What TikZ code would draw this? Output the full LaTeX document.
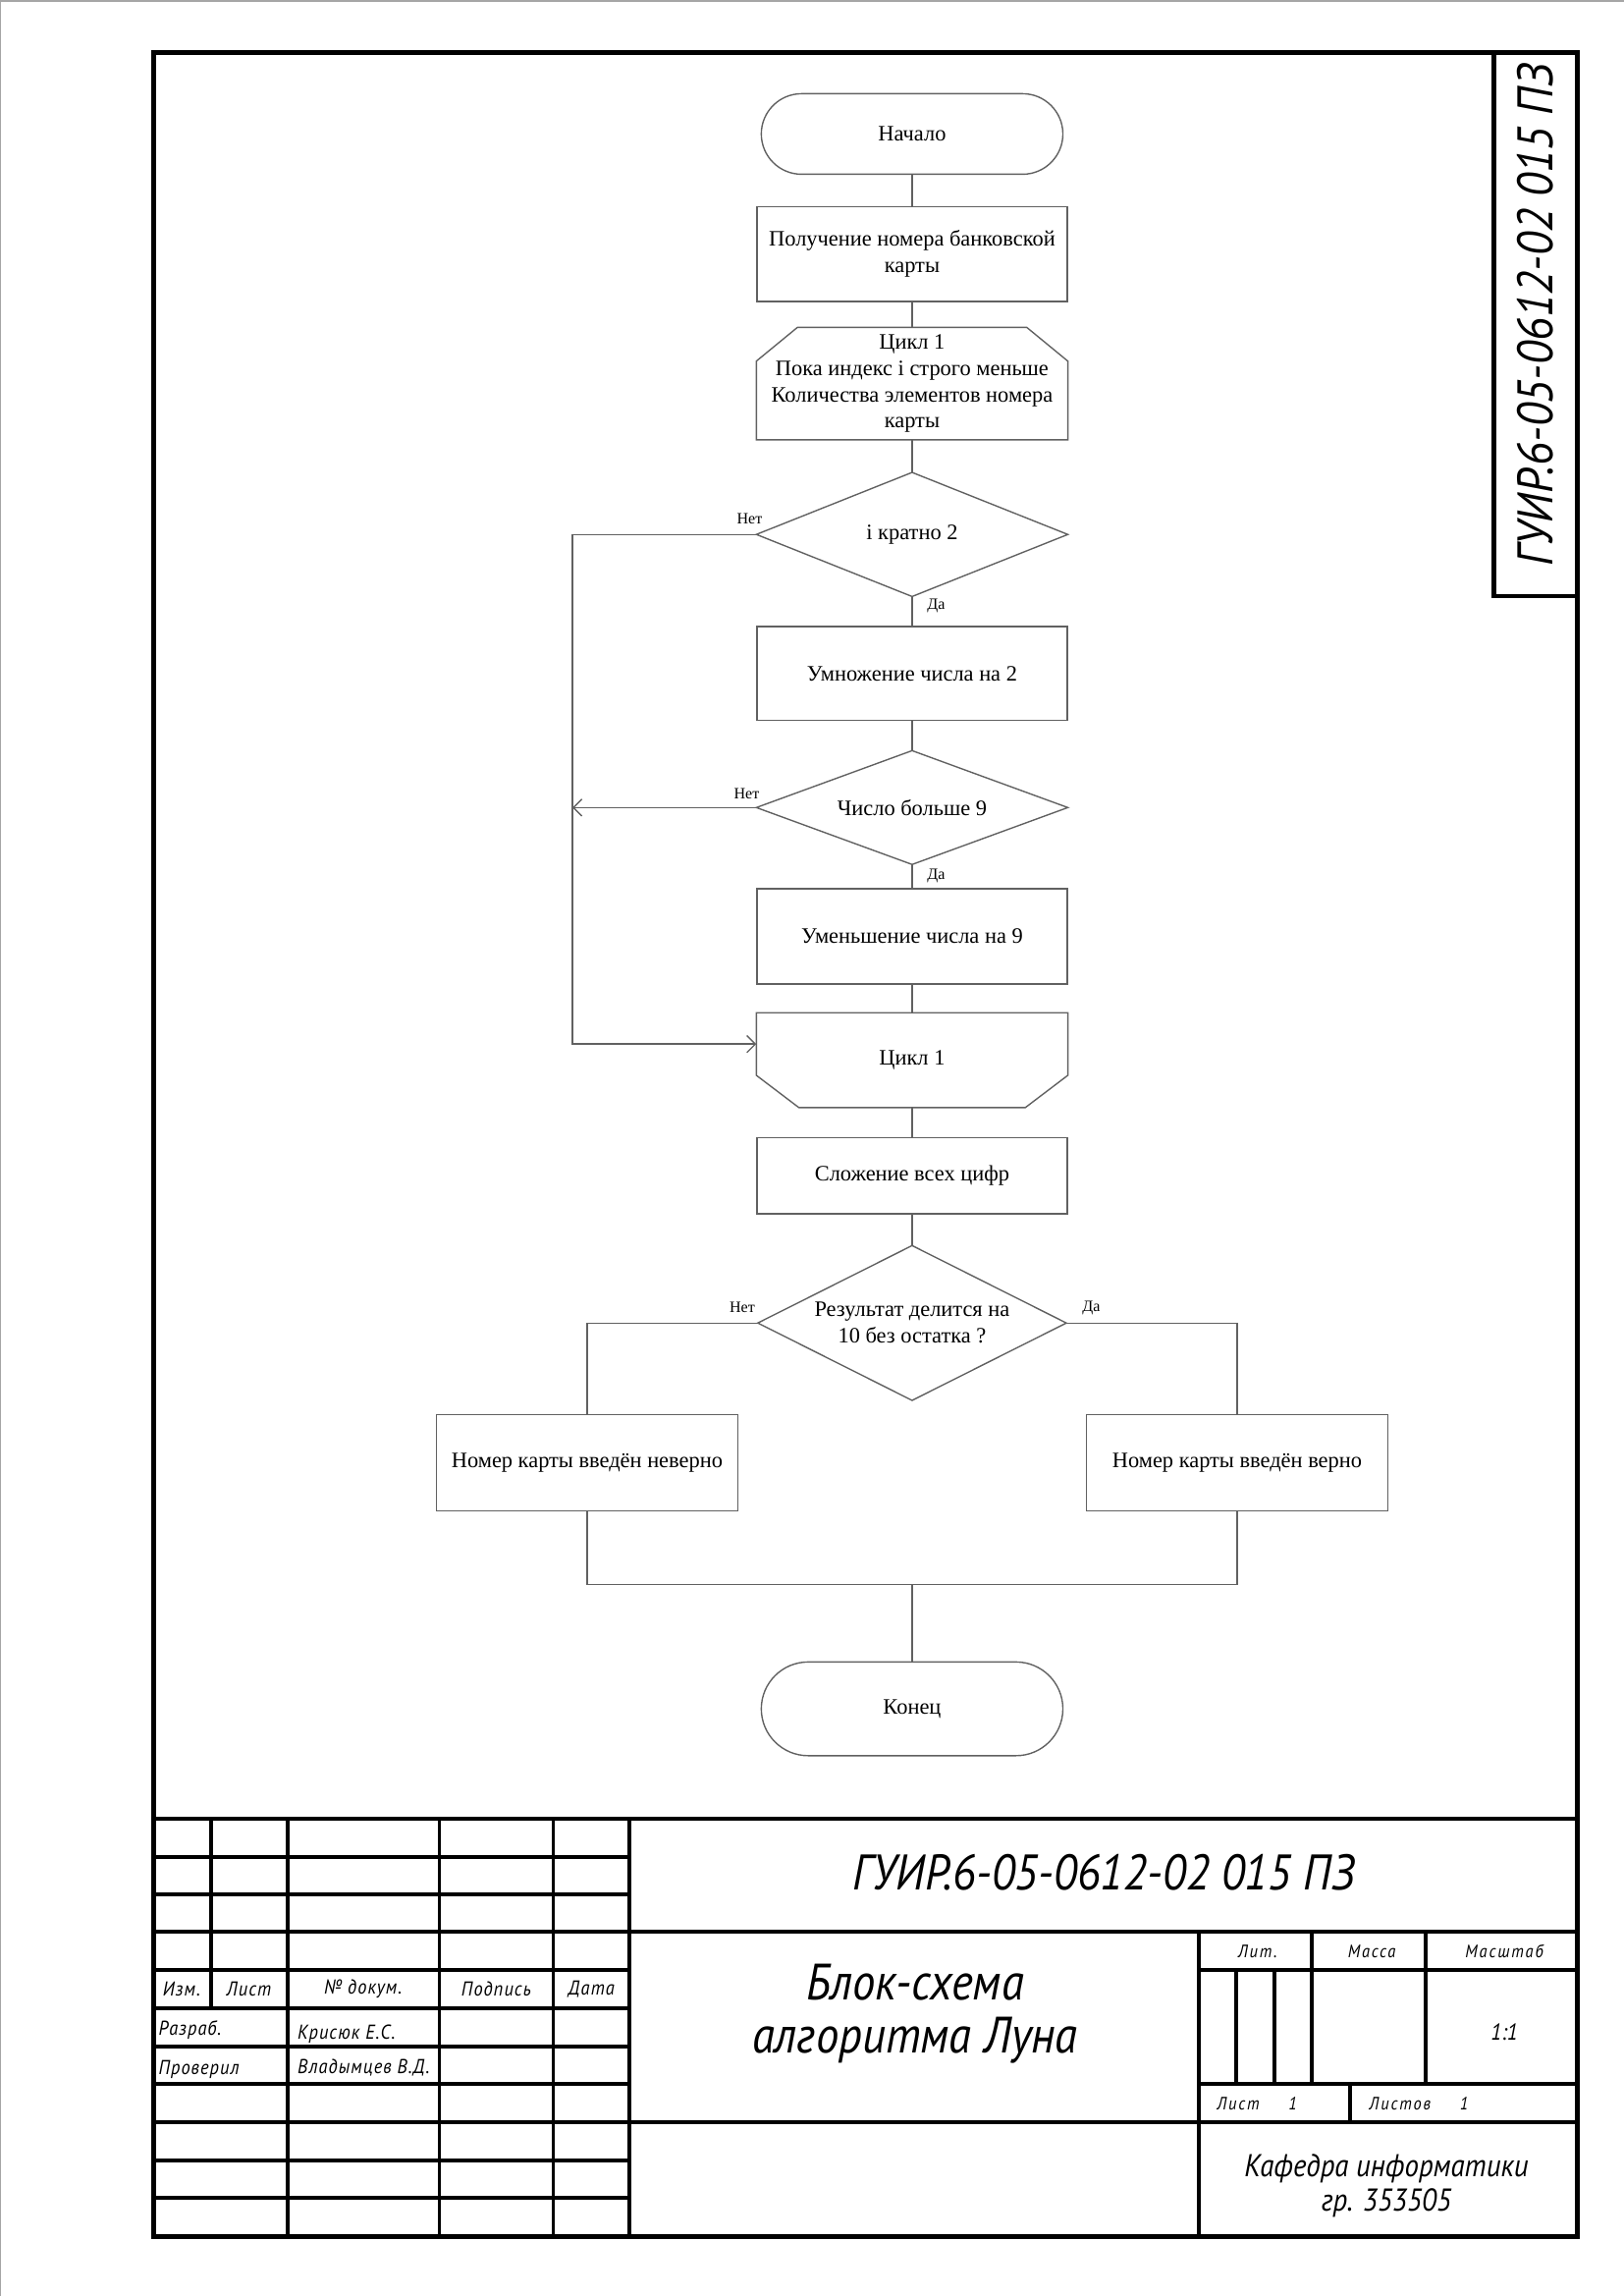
\documentclass[tikz,border=0pt]{standalone}
\usepackage{fontspec}
\setmainfont{Liberation Serif}
\newfontfamily\gost[FakeStretch=0.9]{PT Sans}
\newfontfamily\gostl[FakeStretch=0.9,LetterSpace=5]{PT Sans}
\newfontfamily\gostsp[FakeStretch=0.9,LetterSpace=10]{PT Sans}
\usetikzlibrary{shapes.misc,arrows.meta,calc}
\newcommand{\myu}{0.18941mm}
\begin{document}
\begin{tikzpicture}[x=0.18941mm,y=-0.18941mm,
  sz/.style 2 args={minimum width=#1*\myu,minimum height=#2*\myu},
  fc/.style={draw=black!62,line width=0.5pt},
  ftext/.style={font=\fontsize{8.1}{9.7}\selectfont,align=center,inner sep=0pt},
  box/.style={fc,ftext,rectangle},
  term/.style={fc,ftext,rounded rectangle},
  ghost/.style={ftext,rectangle},
  conn/.style={draw=black!62,line width=0.5pt},
  arr/.style={conn,-{Straight Barb[length=1.1mm,width=2.2mm]}},
  lbl/.style={font=\fontsize{5.8}{7}\selectfont,inner sep=0pt},
  frm/.style={line width=0.6mm},
  tb/.style={line width=0.5mm},
  gs/.style={font=\gostl\itshape\fontsize{7.4}{8}\selectfont,inner sep=0pt},
  gr/.style={font=\gostsp\itshape\fontsize{6.6}{7}\selectfont,inner sep=0pt},
  gb/.style={font=\gost\itshape\fontsize{18.4}{20}\selectfont,inner sep=0pt},
]
\useasboundingbox (0,0) rectangle (1109,1568);
% page edge
\draw[black!35,line width=0.3mm] (0,1568) -- (0,0.5) -- (1109,0.5);
% frame
\draw[frm] (105,36) rectangle (1077.5,1527.5);
\draw[frm] (1020.4,36) -- (1020.4,407) -- (1077.5,407);
\node[gb,rotate=90] (vst) at (1049,215) {ГУИР.6-05-0612-02 015 ПЗ};

% flowchart nodes
\node[term,sz={206}{55}] (start) at (623,91.5) {Начало};
\node[box,sz={212}{65}] (r1) at (623,173.5) {Получение номера банковской\\карты};
\node[ghost,sz={212}{76}] (ls) at (623,262) {Цикл 1\\Пока индекс i строго меньше\\Количества элементов номера\\карты};
\draw[fc] ($(ls.north west)+(28,0)$) -- ($(ls.north east)+(-28,0)$) -- ($(ls.north east)+(0,23)$) -- (ls.south east) -- (ls.south west) -- ($(ls.north west)+(0,23)$) -- cycle;
\node[ghost,sz={212}{84}] (d1) at (623,365) {i кратно 2};
\draw[fc] (d1.north) -- (d1.east) -- (d1.south) -- (d1.west) -- cycle;
\node[box,sz={212}{64}] (r2) at (623,460) {Умножение числа на 2};
\node[ghost,sz={212}{77}] (d2) at (623,551.5) {Число больше 9};
\draw[fc] (d2.north) -- (d2.east) -- (d2.south) -- (d2.west) -- cycle;
\node[box,sz={212}{65}] (r3) at (623,639.5) {Уменьшение числа на 9};
\node[ghost,sz={212}{64}] (le) at (623,724) {Цикл 1};
\draw[fc] (le.north west) -- (le.north east) -- ($(le.south east)+(0,-22)$) -- ($(le.south east)+(-29,0)$) -- ($(le.south west)+(29,0)$) -- ($(le.south west)+(0,-22)$) -- cycle;
\node[box,sz={212}{52}] (r4) at (623,803) {Сложение всех цифр};
\node[ghost,sz={210}{105}] (d3) at (623,903.5) {Результат делится на\\10 без остатка ?};
\draw[fc] (d3.north) -- (d3.east) -- (d3.south) -- (d3.west) -- cycle;
\node[box,sz={206}{66}] (rl) at (401,999) {Номер карты введён неверно};
\node[box,sz={206}{66}] (rr) at (845,999) {Номер карты введён верно};
\node[term,sz={206}{64}] (end) at (623,1167) {Конец};

% connectors
\draw[conn] (start.south) -- (r1.north);
\draw[conn] (r1.south) -- (ls.north);
\draw[conn] (ls.south) -- (d1.north);
\draw[conn] (d1.south) -- (r2.north);
\draw[conn] (r2.south) -- (d2.north);
\draw[conn] (d2.south) -- (r3.north);
\draw[conn] (r3.south) -- (le.north);
\draw[conn] (le.south) -- (r4.north);
\draw[conn] (r4.south) -- (d3.north);
\coordinate (lx) at (391,365);
\coordinate (lein) at ($(le.west)+(0,-11)$);
\draw[arr] (d1.west) -- (lx) -- (lein -| lx) -- (lein);
\draw[arr] (d2.west) -- (d2.west -| lx);
\draw[conn] (d3.west) -| (rl.north);
\draw[conn] (d3.east) -| (rr.north);
\coordinate (m) at (623,1082);
\draw[conn] (rl.south) |- (m) -| (rr.south);
\draw[conn] (m) -- (end.north);

% branch labels
\node[lbl,anchor=east] (n1) at (521,354) {Нет};
\node[lbl,anchor=west] (y1) at (633,414) {Да};
\node[lbl,anchor=east] (n2) at (519,542) {Нет};
\node[lbl,anchor=west] (y2) at (633,598) {Да};
\node[lbl,anchor=east] (n3) at (516,893) {Нет};
\node[lbl,anchor=west] (y3) at (739,893) {Да};

% title block lines
\draw[tb] (105,1242.3) -- (1077.5,1242.3);
\draw[tb] (105,1319.4) -- (1077.5,1319.4);
\draw[tb] (105,1449.1) -- (1077.5,1449.1);
\foreach \yy in {1267.9,1293.6,1345.6,1371.5,1397.6,1423.4,1475.2,1501.2}
  \draw[tb] (105,\yy) -- (429.8,\yy);
\draw[tb] (144.2,1242.3) -- (144.2,1371.5);
\foreach \xx in {196.4,300.1,377.9,429.8}
  \draw[tb] (\xx,1242.3) -- (\xx,1527.5);
\draw[tb] (819,1319.4) -- (819,1527.5);
\draw[tb] (819,1345.5) -- (1077.5,1345.5);
\draw[tb] (819,1423.4) -- (1077.5,1423.4);
\foreach \xx in {844.2,870.3}
  \draw[tb] (\xx,1345.5) -- (\xx,1423.4);
\foreach \xx in {896,974}
  \draw[tb] (\xx,1319.4) -- (\xx,1423.4);
\draw[tb] (922,1423.4) -- (922,1449.1);

% title block texts
\node[gs] (t1) at (124,1358.5) {Изм.};
\node[gs] (t2) at (170,1358.5) {Лист};
\node[gs] (t3) at (248,1358.5) {№ докум.};
\node[gs] (t4) at (339,1358.5) {Подпись};
\node[gs] (t5) at (404,1358.5) {Дата};
\node[gs,anchor=west] (t6) at (108,1386.5) {Разраб.};
\node[gs,anchor=west] (t7) at (203,1389) {Крисюк Е.С.};
\node[gs,anchor=west] (t8) at (108,1413.3) {Проверил};
\node[gs,anchor=west] (t9) at (203,1412) {Владымцев В.Д.};
\node[gb] (doc) at (754,1279) {ГУИР.6-05-0612-02 015 ПЗ};
\node[gb,align=center,font=\gost\itshape\fontsize{18.8}{19.6}\selectfont] (ttl) at (625,1375) {Блок-схема\\алгоритма Луна};
\node[gr] (lit) at (859,1332.8) {Лит.};
\node[gr] (mas) at (937,1332.8) {Масса};
\node[gr] (msh) at (1027.5,1332.8) {Масштаб};
\node[gs,font=\gost\itshape\fontsize{8.5}{9}\selectfont] (sc) at (1027.5,1387.5) {1:1};
\node[gr,anchor=west] (ls1) at (831,1436.8) {Лист};
\node[gr] (ls2) at (883,1436.8) {1};
\node[gr,anchor=west] (lv1) at (935,1436.8) {Листов};
\node[gr] (lv2) at (1000,1436.8) {1};
\node[align=center,inner sep=0pt,font=\gost\itshape\fontsize{11.6}{12.6}\selectfont] (kaf) at (947,1493) {Кафедра информатики\\гр. 353505};
\end{tikzpicture}
\end{document}
